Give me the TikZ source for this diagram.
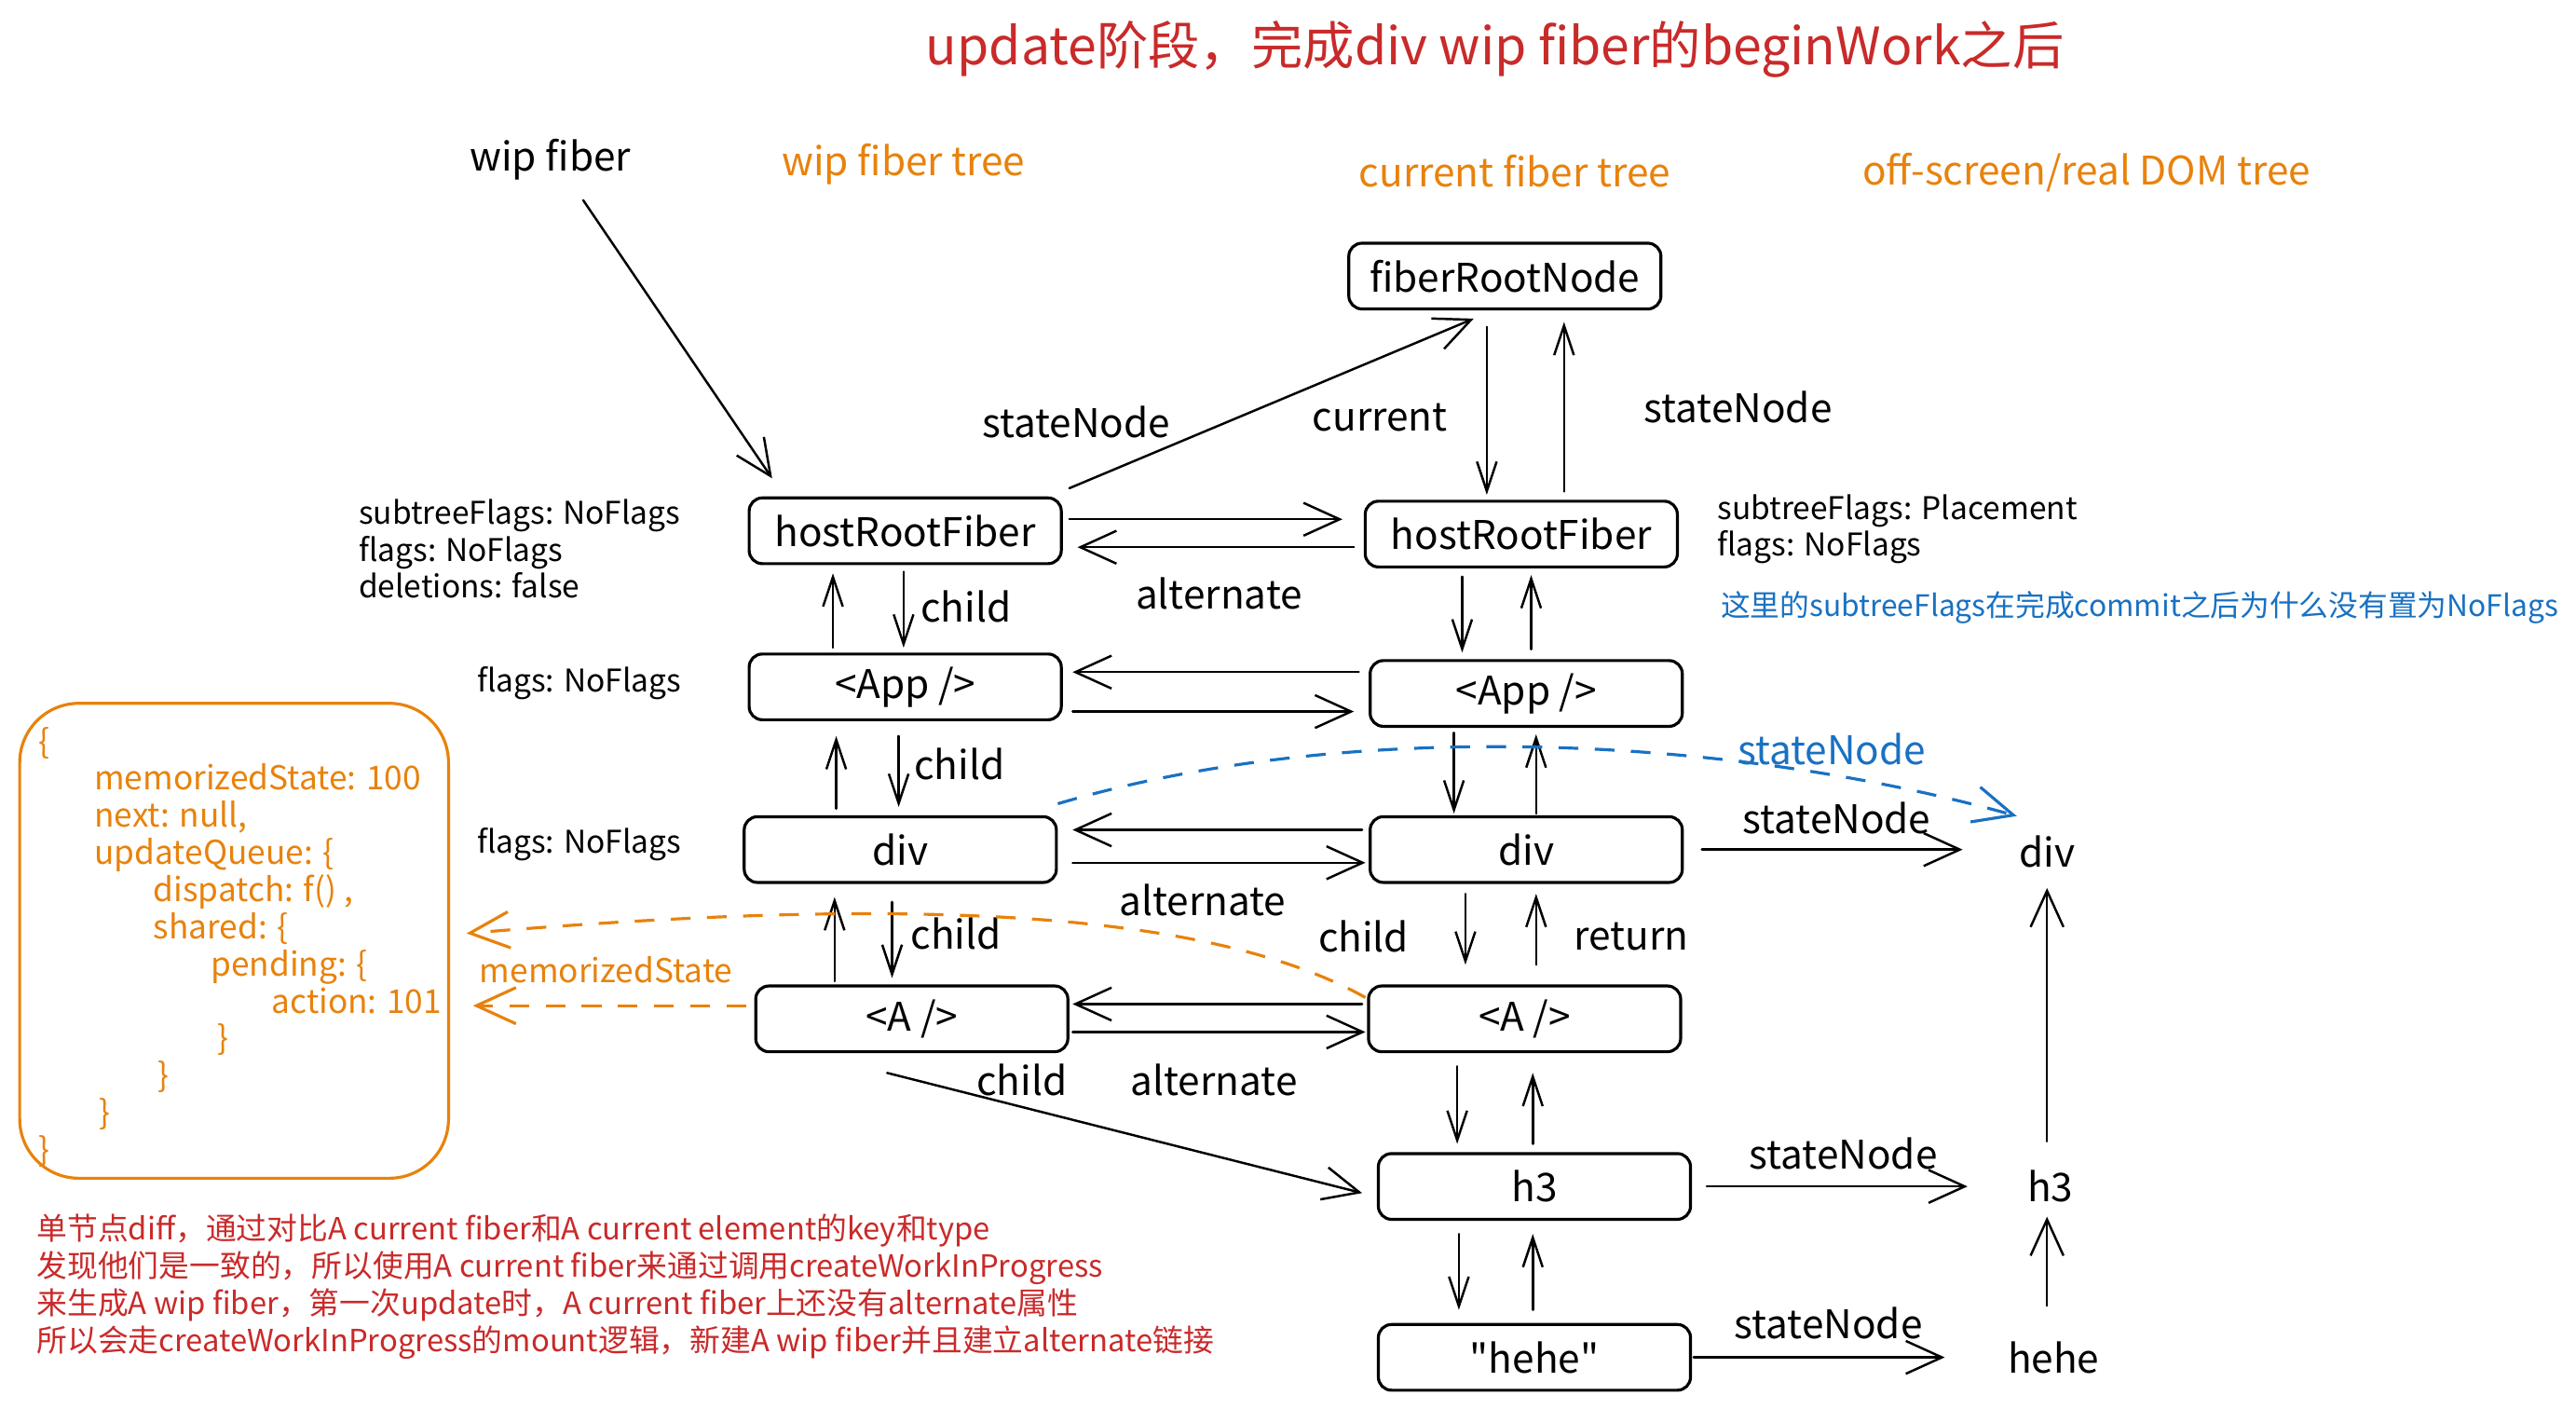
\documentclass[tikz,border=0pt]{standalone}
\usepackage{fontspec}
\setmainfont{Noto Sans CJK SC}
% same face without TeX quote ligatures, for straight quotes
\newfontfamily\plainq{Noto Sans CJK SC}
\usetikzlibrary{arrows.meta,calc}

\definecolor{xred}{HTML}{C92A2A}
\definecolor{xorange}{HTML}{E8820C}
\definecolor{xblue}{HTML}{1971C2}

\tikzset{
  fbox/.style={draw, line width=0.9pt, rounded corners=4pt, minimum width=95pt,
    minimum height=20pt, inner sep=0pt, font=\fontsize{12}{14}\selectfont},
  domtxt/.style={minimum width=20pt, minimum height=20pt, inner sep=0pt,
    font=\fontsize{12}{14}\selectfont},
  lbl/.style={inner sep=0pt, font=\fontsize{12}{14}\selectfont},
  note/.style={inner sep=0pt, align=left, anchor=west, font=\fontsize{9.5}{11.25}\selectfont},
  arr/.style={line width=0.7pt, line cap=round, -{Straight Barb[length=11pt,width=10pt]}},
  varr/.style={line width=0.7pt, line cap=round, -{Straight Barb[length=9pt,width=6pt]}},
  dasharr/.style={line width=0.9pt, dash pattern=on 6pt off 5pt,
    -{Straight Barb[length=12pt,width=11pt]}},
}

\begin{document}
\begin{tikzpicture}[x=0.5pt,y=-0.5pt]
\useasboundingbox (0,0) rectangle (1568,857);
\fill[white] (0,0) rectangle (1568,857);

% title and column headings
\node[inner sep=0pt, text=xred, font=\fontsize{15.7}{18}\selectfont] (title) at (910,30)
  {update阶段，完成div wip fiber的beginWork之后};
\node[lbl] (wipf) at (335,97) {wip fiber};
\node[lbl, text=xorange] (hwip) at (550,100) {wip fiber tree};
\node[lbl, text=xorange] (hcur) at (922,104) {current fiber tree};
\node[lbl, text=xorange] (hdom) at (1270,105) {off-screen/real DOM tree};

% fiber root
\node[fbox] (r0) at (916,168) {fiberRootNode};

% wip fiber tree
\node[fbox] (w1) at (551,323) {hostRootFiber};
\node[fbox] (w2) at (551,418) {<App />};
\node[fbox] (w3) at (548,517) {div};
\node[fbox] (w4) at (555,620) {<A />};

% current fiber tree
\node[fbox] (c1) at (926,325) {hostRootFiber};
\node[fbox] (c2) at (929,422) {<App />};
\node[fbox] (c3) at (929,517) {div};
\node[fbox] (c4) at (928,620) {<A />};
\node[fbox] (c5) at (934,722) {h3};
\node[fbox] (c6) at (934,826) {{\plainq "hehe"}};

% DOM tree
\node[domtxt] (d1) at (1246,518) {div};
\node[domtxt] (d2) at (1248,722) {h3};
\node[domtxt] (d3) at (1250,826) {hehe};

% hook state object
\node[draw=xorange, line width=0.9pt, rounded corners=18pt, minimum width=130.5pt,
  minimum height=144.5pt, inner sep=0pt] (code) at (142.5,572.5) {};
\node[inner sep=0pt, align=left, anchor=north west, text=xorange,
  font=\fontsize{10}{11.3}\selectfont] (codetext) at (23,442) {%
\{\\
\hspace*{17pt}memorizedState: 100\\
\hspace*{17pt}next: null,\\
\hspace*{17pt}updateQueue: \{\\
\hspace*{35pt}dispatch: f() ,\\
\hspace*{35pt}shared: \{\\
\hspace*{52.5pt}pending: \{\\
\hspace*{71pt}action: 101\\
\hspace*{54.5pt}\}\\
\hspace*{36.5pt}\}\\
\hspace*{18.5pt}\}\\
\}};

% flag notes
\node[note] (n1) at (218,334) {subtreeFlags: NoFlags\\flags: NoFlags\\deletions: false};
\node[note] (n2) at (290,416) {flags: NoFlags};
\node[note] (n3) at (290,514) {flags: NoFlags};
\node[note] (n4) at (1045,322) {subtreeFlags: Placement\\flags: NoFlags};
\node[note, text=xblue, font=\fontsize{9}{11}\selectfont] (n5) at (1047,370)
  {这里的subtreeFlags在完成commit之后为什么没有置为NoFlags};
\node[note, text=xred, font=\fontsize{9.3}{11.25}\selectfont] (n6) at (22,783) {%
单节点diff，通过对比A current fiber和A current element的key和type\\
发现他们是一致的，所以使用A current fiber来通过调用createWorkInProgress\\
来生成A wip fiber，第一次update时，A current fiber上还没有alternate属性\\
所以会走createWorkInProgress的mount逻辑，新建A wip fiber并且建立alternate链接};

% wip fiber pointer and root links
\draw[arr] ($(wipf.south)+(20,12)$) -- ($(w1.north)+(-81,-11)$);
\draw[arr] ($(w1.north east)+(4,-5)$) -- ($(r0.south)+(-19,5)$);
\draw[varr] ($(r0.south)+(-11,10)$) -- ($(c1.north)+(-21,-3)$);
\draw[varr] ($(c1.north)+(26,-5)$) -- ($(r0.south)+(36,7)$);
\node[lbl] (l1) at (655,257) {stateNode};
\node[lbl] (l2) at (840,254) {current};
\node[lbl] (l3) at (1058,248) {stateNode};

% alternate links
\draw[arr] ($(w1.east)+(4,-7)$) -- ($(c1.west)+(-13,-9)$);
\draw[arr] ($(c1.west)+(-6,8)$) -- ($(w1.east)+(9,10)$);
\draw[arr] ($(c2.west)+(-6,-13)$) -- ($(w2.east)+(6,-9)$);
\draw[arr] ($(w2.east)+(6,15)$) -- ($(c2.west)+(-9,11)$);
\draw[arr] ($(c3.west)+(-4,-12)$) -- ($(w3.east)+(9,-12)$);
\draw[arr] ($(w3.east)+(9,8)$) -- ($(c3.west)+(-2,8)$);
\draw[arr] ($(c4.west)+(-3,-9)$) -- ($(w4.east)+(2,-9)$);
\draw[arr] ($(w4.east)+(2,8)$) -- ($(c4.west)+(-1,8)$);
\node[lbl] (l4) at (742,361) {alternate};
\node[lbl] (l5) at (732,548) {alternate};
\node[lbl] (l6) at (739,657) {alternate};

% wip tree child / return
\draw[varr] ($(w1.south)+(-1,4)$) -- ($(w2.north)+(-1,-3)$);
\draw[varr] ($(w2.north)+(-44,-3)$) -- ($(w1.south)+(-44,5)$);
\draw[varr] ($(w2.south)+(-4,9)$) -- ($(w3.north)+(-1,-5)$);
\draw[varr] ($(w3.north)+(-39,-4)$) -- ($(w2.south)+(-42,9)$);
\draw[varr] ($(w3.south)+(-5,11)$) -- ($(w4.north)+(-12,-4)$);
\draw[varr] ($(w4.north)+(-47,-2)$) -- ($(w3.south)+(-40,8)$);
\draw[arr] ($(w4.south)+(-15,12)$) -- ($(c5.west)+(-9,4)$);
\node[lbl] (l7) at (588,369) {child};
\node[lbl] (l8) at (584,465) {child};
\node[lbl] (l9) at (582,568) {child};
\node[lbl] (l10) at (622,657) {child};

% current tree child / return
\draw[varr] ($(c1.south)+(-36,5)$) -- ($(c2.north)+(-39,-4)$);
\draw[varr] ($(c2.north)+(3,-6)$) -- ($(c1.south)+(6,4)$);
\draw[varr] ($(c2.south)+(-44,3)$) -- ($(c3.north)+(-44,-1)$);
\draw[varr] ($(c3.north)+(6,-1)$) -- ($(c2.south)+(6,4)$);
\draw[varr] ($(c3.south)+(-37,6)$) -- ($(c4.north)+(-36,-12)$);
\draw[varr] ($(c4.north)+(7,-12)$) -- ($(c3.south)+(6,6)$);
\draw[varr] ($(c4.south)+(-41,8)$) -- ($(c5.north)+(-47,-5)$);
\draw[varr] ($(c5.north)+(-1,-5)$) -- ($(c4.south)+(5,12)$);
\draw[varr] ($(c5.south)+(-46,8)$) -- ($(c6.north)+(-46,-8)$);
\draw[varr] ($(c6.north)+(-1,-8)$) -- ($(c5.south)+(-1,8)$);
\node[lbl] (l11) at (830,570) {child};
\node[lbl] (l12) at (993,570) {return};

% stateNode to DOM
\draw[arr] ($(c3.east)+(11,0)$) -- ($(d1.west)+(-31,-1)$);
\draw[arr] ($(c5.east)+(9,0)$) -- ($(d2.west)+(-30,0)$);
\draw[arr] ($(c6.east)+(1,0)$) -- ($(d3.west)+(-38,0)$);
\draw[arr] ($(d3.north)+(-4,-11)$) -- ($(d2.south)+(-2,-2)$);
\draw[arr] ($(d2.north)+(-2,-7)$) -- ($(d1.south)+(0,2)$);
\node[lbl] (l13) at (1118,498) {stateNode};
\node[lbl] (l14) at (1122,702) {stateNode};
\node[lbl] (l15) at (1113,805) {stateNode};

% wip div stateNode (blue)
\draw[dasharr, xblue] ($(w3.north east)+(0,-7)$) .. controls (820,437) and (1050,447) .. ($(d1.north west)+(2,-1)$);
\node[lbl, text=xblue] (l16) at (1115,456) {stateNode};

% memorizedState (orange)
\draw[dasharr, xorange] ($(c4.west)+(-1,-13)$) .. controls (720,545) and (500,550) .. ($(code.east)+(10,-4.5)$);
\draw[dasharr, xorange] ($(w4.west)+(-5,-8)$) -- ($(code.east)+(14,39.5)$);
\node[inner sep=0pt, text=xorange, font=\fontsize{10}{12}\selectfont] (l17) at (369,590) {memorizedState};

\end{tikzpicture}
\end{document}
